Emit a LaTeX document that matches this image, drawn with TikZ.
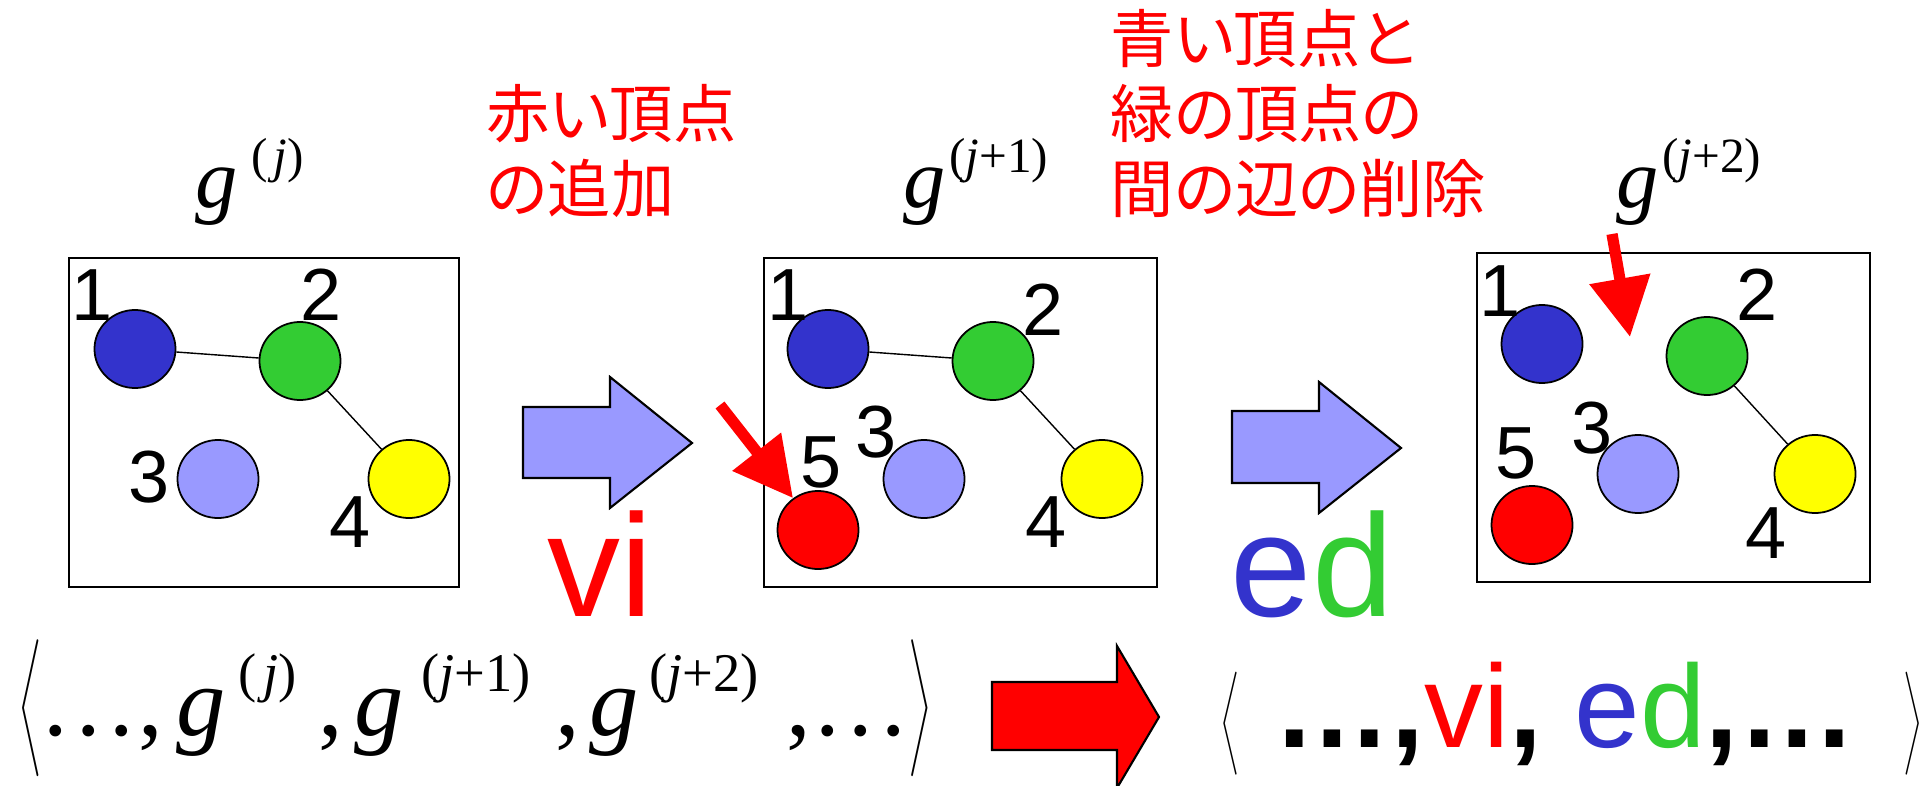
\documentclass[tikz,border=0pt]{standalone}
\usepackage{fontspec}
\usepackage{graphicx}
\setmainfont{Liberation Sans}
\newfontfamily\jpfont[RawFeature=+palt]{Noto Sans CJK JP}
\newfontfamily\timesfont{Liberation Serif}
\usetikzlibrary{shapes.geometric,arrows.meta}
\definecolor{vblue}{HTML}{3333CC}
\definecolor{vgreen}{HTML}{33CC33}
\definecolor{vlav}{HTML}{9999FF}
\definecolor{vyellow}{HTML}{FFFF00}
\definecolor{vred}{HTML}{FF0000}
\newcommand{\myLang}[2]{\resizebox*{#1}{#2}{$\left\langle\vrule height 12pt depth 12pt width 0pt\right.$}}
\newcommand{\myRang}[2]{\resizebox*{#1}{#2}{$\left.\vrule height 12pt depth 12pt width 0pt\right\rangle$}}
% g with superscript: #1 size of g, #2 kern, #3 raise, #4 sup size, #5 sup text
\newcommand{\gexp}[5]{{\timesfont\fontsize{#1}{#1}\selectfont\itshape g}\kern#2\raisebox{#3}{\timesfont\fontsize{#4}{#4}\selectfont #5}}
\tikzset{
  vtx/.style={ellipse, draw=black, line width=0.5pt, minimum width=0.81cm, minimum height=0.78cm, inner sep=0pt},
  num/.style={font=\fontsize{21}{21}\selectfont, inner sep=0pt},
  frame/.style={draw=black, line width=0.5pt, inner sep=0pt},
  gedge/.style={line width=0.4pt},
  redarrow/.style={draw=vred, line width=3.2pt, -{Triangle[length=0.59cm,width=0.59cm]}},
  blockarrow/.style={draw=black, line width=0.6pt, line join=miter},
  jp/.style={text=vred, font=\jpfont\fontsize{18}{21.3}\selectfont, align=left, inner sep=0pt},
  bigtxt/.style={font=\fontsize{41.5}{41.5}\selectfont, inner sep=0pt},
  formula/.style={font=\timesfont\fontsize{28}{28}\selectfont, inner sep=0pt, anchor=base west},
  glabel/.style={inner sep=0pt, anchor=base west},
  brk/.style={inner sep=0pt}
}
\begin{document}
\begin{tikzpicture}[x=0.01cm,y=-0.01cm]
\useasboundingbox (0,0) rectangle (1925,785);

% ---------- box 1 ----------
\node[frame, minimum width=3.90cm, minimum height=3.29cm] (box1) at (264,422.5) {};
\node[vtx, fill=vblue]   (a1) at (135,349) {};
\node[vtx, fill=vgreen]  (a2) at (300,361) {};
\node[vtx, fill=vlav]    (a3) at (218,479) {};
\node[vtx, fill=vyellow] (a4) at (409,479) {};
\draw[gedge] (a1) -- (a2);
\draw[gedge] (a2) -- (a4);
\node[num] (na1) at (92,295) {1};
\node[num] (na2) at (321,295) {2};
\node[num] (na3) at (149,477) {3};
\node[num] (na4) at (350,522) {4};

% ---------- box 2 ----------
\node[frame, minimum width=3.93cm, minimum height=3.29cm] (box2) at (960.5,422.5) {};
\node[vtx, fill=vblue]   (b1) at (828,349) {};
\node[vtx, fill=vgreen]  (b2) at (993,361) {};
\node[vtx, fill=vlav]    (b3) at (924,479) {};
\node[vtx, fill=vyellow] (b4) at (1102,479) {};
\node[vtx, fill=vred]    (b5) at (818,530) {};
\draw[gedge] (b1) -- (b2);
\draw[gedge] (b2) -- (b4);
\node[num] (nb1) at (788,295) {1};
\node[num] (nb2) at (1043,310) {2};
\node[num] (nb3) at (876,432) {3};
\node[num] (nb5) at (821,462) {5};
\node[num] (nb4) at (1046,522) {4};
\coordinate (t2) at (720,405);
\draw[redarrow] (t2) -- (b5);

% ---------- box 3 ----------
\node[frame, minimum width=3.93cm, minimum height=3.29cm] (box3) at (1673.5,417.5) {};
\node[vtx, fill=vblue]   (c1) at (1542,344) {};
\node[vtx, fill=vgreen]  (c2) at (1707,356) {};
\node[vtx, fill=vlav]    (c3) at (1638,474) {};
\node[vtx, fill=vyellow] (c4) at (1815,474) {};
\node[vtx, fill=vred]    (c5) at (1532,525) {};
\draw[gedge] (c2) -- (c4);
\node[num] (nc1) at (1500,291) {1};
\node[num] (nc2) at (1757,295) {2};
\node[num] (nc3) at (1592,428) {3};
\node[num] (nc5) at (1516,453) {5};
\node[num] (nc4) at (1766,533) {4};
\coordinate (t3a) at (1612,234);
\coordinate (t3b) at (1630,337);
\draw[redarrow] (t3a) -- (t3b);

% ---------- labels above boxes ----------
\node[glabel] (g1) at (195,208) {\gexp{24}{4pt}{10pt}{14}{(\kern1.5pt\textit{j})}};
\node[glabel] (g2) at (903,208) {\gexp{24}{1pt}{10pt}{14}{(\textit{j}+1)}};
\node[glabel] (g3) at (1616,208) {\gexp{24}{1pt}{10pt}{14}{(\textit{j}+2)}};

% ---------- Japanese captions (anchor = baseline of last line) ----------
\node[jp, anchor=base west] (cap1) at (486,212.5) {赤い頂点\\の追加};
\node[jp, anchor=base west] (cap2) at (1110,212.5) {青い頂点と\\緑の頂点の\\間の辺の削除};

% ---------- block arrows ----------
\path[blockarrow, fill=vlav] (523,407) -- (610,407) -- (610,377) -- (692,443) -- (610,508) -- (610,478) -- (523,478) -- cycle;
\path[blockarrow, fill=vlav] (1232,411) -- (1319,411) -- (1319,382) -- (1401,448) -- (1319,513) -- (1319,483) -- (1232,483) -- cycle;
\path[blockarrow, fill=vred] (992,682) -- (1117,682) -- (1117,646) -- (1159,717) -- (1117,788) -- (1117,750) -- (992,750) -- cycle;

% ---------- operation names ----------
\node[bigtxt, text=vred, anchor=base] (vi) at (600,616) {vi};
\node[bigtxt, anchor=base] (ed) at (1312,616) {\textcolor{vblue}{e}\textcolor{vgreen}{d}};

% ---------- graph sequence ----------
\node[brk] (lb1) at (32.5,708.5) {\myLang{0.27cm}{1.37cm}};
\node[formula] (f1) at (39,735) {…,};
\node[formula] (f2) at (176,735) {\gexp{28}{3.5pt}{12.5pt}{15.5}{(\kern2pt\textit{j})}};
\node[formula] (f3) at (318,735) {,};
\node[formula] (f4) at (354,735) {\gexp{28}{5pt}{12.5pt}{15.5}{(\textit{j}+1)}};
\node[formula] (f5) at (555,735) {,};
\node[formula] (f6) at (589,735) {\gexp{28}{3pt}{12.5pt}{15.5}{(\textit{j}+2)}};
\node[formula] (f7) at (786,735) {,…};
\node[brk] (rb1) at (918.5,708.5) {\myRang{0.27cm}{1.37cm}};

% ---------- code sequence ----------
\node[brk] (lb2) at (1231.5,723.5) {\myLang{0.22cm}{1.03cm}};
\node[inner sep=0pt, anchor=base west, font=\fontsize{33.5}{33.5}\selectfont] (seq2) at (1273,747)
  {\textbf{…,}\textcolor{vred}{vi}\textbf{,} \textcolor{vblue}{e}\textcolor{vgreen}{d}\textbf{,…}};
\node[brk] (rb2) at (1912,723.5) {\myRang{0.22cm}{1.03cm}};
\end{tikzpicture}
\end{document}
